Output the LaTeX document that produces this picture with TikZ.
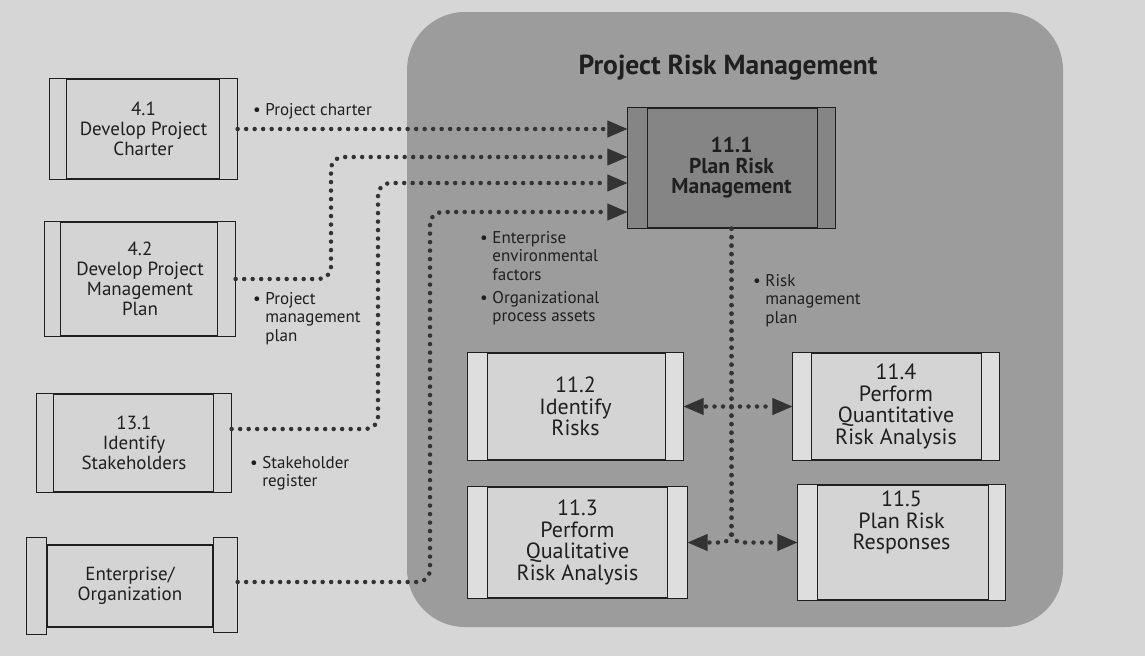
\documentclass[tikz,border=0pt]{standalone}
\usepackage{fontspec}
\setmainfont{PT Sans}
\usetikzlibrary{arrows.meta,calc,positioning}

\definecolor{pagegray}{gray}{0.84}
\definecolor{areagray}{gray}{0.61}
\definecolor{plangray}{gray}{0.52}
\definecolor{boxgray}{gray}{0.83}
\definecolor{stripgray}{gray}{0.87}
\definecolor{dotgray}{gray}{0.2}
\definecolor{inkgray}{gray}{0.12}

\newcommand\ind{\hphantom{\textbullet\ }}
% side strips of a process box: node, left width, right width, fill
\newcommand\sidestrips[4]{%
  \filldraw[boxline, fill=#4] (#1.north west) rectangle ([xshift=#2]#1.south west);
  \filldraw[boxline, fill=#4] (#1.north east) rectangle ([xshift=-#3]#1.south east);}

\tikzset{
  boxline/.style={draw=inkgray, line width=1.3pt},
  procbox/.style={boxline, fill=boxgray, align=center, inner sep=0pt, text=inkgray,
    font=\fontsize{19}{20}\selectfont},
  riskbox/.style={procbox, font=\fontsize{22}{21.5}\selectfont},
  planbox/.style={procbox, fill=plangray, font=\bfseries\fontsize{21.5}{20.5}\selectfont},
  note/.style={inner sep=0pt, align=left, text=inkgray, font=\fontsize{17}{18.5}\selectfont},
  flow/.style={draw=dotgray, line width=4.5pt, line cap=round, dash pattern=on 0pt off 8.5pt,
    -{Triangle[length=20pt,width=17pt,line width=1pt,fill=dotgray]}},
}

\begin{document}
\begin{tikzpicture}[x=1pt,y=-1pt]
\useasboundingbox (0,0) rectangle (1145,656);
\fill[pagegray] (0,0) rectangle (1145,656);
%% the risk management area
\fill[areagray, rounded corners=58pt] (407,12) rectangle (1063,627);
\node[text=inkgray, font=\bfseries\fontsize{27.5}{29}\selectfont] (title) at (728,68) {Project Risk Management};

%% inputs
% Node: 4.1
\node[procbox, minimum width=187pt, minimum height=100pt] (d41) at (143.5,129) {4.1\\Develop Project\\Charter};
\sidestrips{d41}{17pt}{18pt}{boxgray}
% Node: 4.2
\node[procbox, minimum width=190pt, minimum height=114pt] (d42) at (140,279) {4.2\\Develop Project\\Management\\Plan};
\sidestrips{d42}{16pt}{18pt}{boxgray}
% Node: 13.1
\node[procbox, minimum width=194pt, minimum height=98pt] (d131) at (134,443) {13.1\\Identify\\Stakeholders};
\sidestrips{d131}{17pt}{18pt}{boxgray}
% Node: enterprise (strips stand out above and below)
\node[procbox, minimum width=166pt, minimum height=82pt] (ent) at (130,586) {Enterprise/\\Organization};
\filldraw[boxline, fill=boxgray] ([xshift=-20pt,yshift=7pt]ent.north west) rectangle ([yshift=-7pt]ent.south west);
\filldraw[boxline, fill=boxgray] ([xshift=24pt,yshift=7pt]ent.north east) rectangle ([yshift=-5pt]ent.south east);

%% process boxes
% Node: 11.1
\node[planbox, minimum width=207pt, minimum height=120pt] (p11) at (731.5,168) {11.1\\Plan Risk\\Management};
\sidestrips{p11}{20pt}{18pt}{plangray}
% Node: 11.2
\node[riskbox, minimum width=215pt, minimum height=107pt] (r2) at (575.5,406.5) {11.2\\Identify\\Risks};
\sidestrips{r2}{20pt}{18pt}{stripgray}
% Node: 11.3
\node[riskbox, minimum width=219pt, minimum height=111pt] (r3) at (577.5,542.5) {11.3\\Perform\\Qualitative\\Risk Analysis};
\sidestrips{r3}{20pt}{20pt}{stripgray}
% Node: 11.4
\node[riskbox, minimum width=206pt, minimum height=107pt] (r4) at (896,406.5) {11.4\\Perform\\Quantitative\\Risk Analysis};
\sidestrips{r4}{19pt}{18pt}{stripgray}
% Node: 11.5
\node[riskbox, minimum width=207pt, minimum height=115pt,
  label={[riskbox, draw=none, fill=none, yshift=20pt]center:{11.5\\Plan Risk\\Responses}}] (r5) at (901.5,542.5) {};
\sidestrips{r5}{20pt}{17pt}{stripgray}

%% entry points on 11.1 and bends
\coordinate (in1) at (p11.west |- d41.east);
\coordinate (in2) at ($(p11.west)+(0,-11)$);
\coordinate (in3) at ($(p11.west)+(0,15)$);
\coordinate (in4) at ($(p11.west)+(0,44)$);
\coordinate (bend2) at (331,0);
\coordinate (bend3) at (378,0);
\coordinate (bend4) at (430,0);

% Edge: 4.1 -> 11.1
\draw[flow] (d41.east) -- (in1);
% Edge: 4.2 -> 11.1
\draw[flow, rounded corners=12pt] (d42.east) -| (bend2 |- in2) -- (in2);
% Edge: 13.1 -> 11.1
\draw[flow, rounded corners=12pt] ($(d131.east)+(0,-14)$) -| (bend3 |- in3) -- (in3);
% Edge: enterprise -> 11.1
\draw[flow, rounded corners=12pt] ([xshift=24pt,yshift=4pt]ent.east) -| (bend4 |- in4) -- (in4);

% Edge: 11.1 -> 11.2, 11.4
\coordinate (jtop) at (p11.south |- r2.east);
\draw[flow] (jtop) -- (r2.east);
\draw[flow] (jtop) -- (r4.west);
% Edge: 11.1 -> 11.3, 11.5
\draw[flow, rounded corners=10pt] (p11.south) |- (r3.east);
\draw[flow, rounded corners=10pt] (p11.south) |- (r5.west);

%% data labels (anchored at the baseline of their last line)
\node[note, anchor=base west] (lcharter) at (253,115) {\textbullet\ Project charter};
\node[note, anchor=base west] (lpmp) at (253,341) {\textbullet\ Project\\\ind management\\\ind plan};
\node[note, anchor=base west] (lreg) at (250,486.5) {\textbullet\ Stakeholder\\\ind register};
\node[note, anchor=base west] (leef) at (480,280) {\textbullet\ Enterprise\\\ind environmental\\\ind factors};
\node[note, anchor=base west] (lopa) at (480,321.5) {\textbullet\ Organizational\\\ind process assets};
\node[note, anchor=base west] (lrmp) at (753,323) {\textbullet\ Risk\\\ind management\\\ind plan};
\end{tikzpicture}
\end{document}
